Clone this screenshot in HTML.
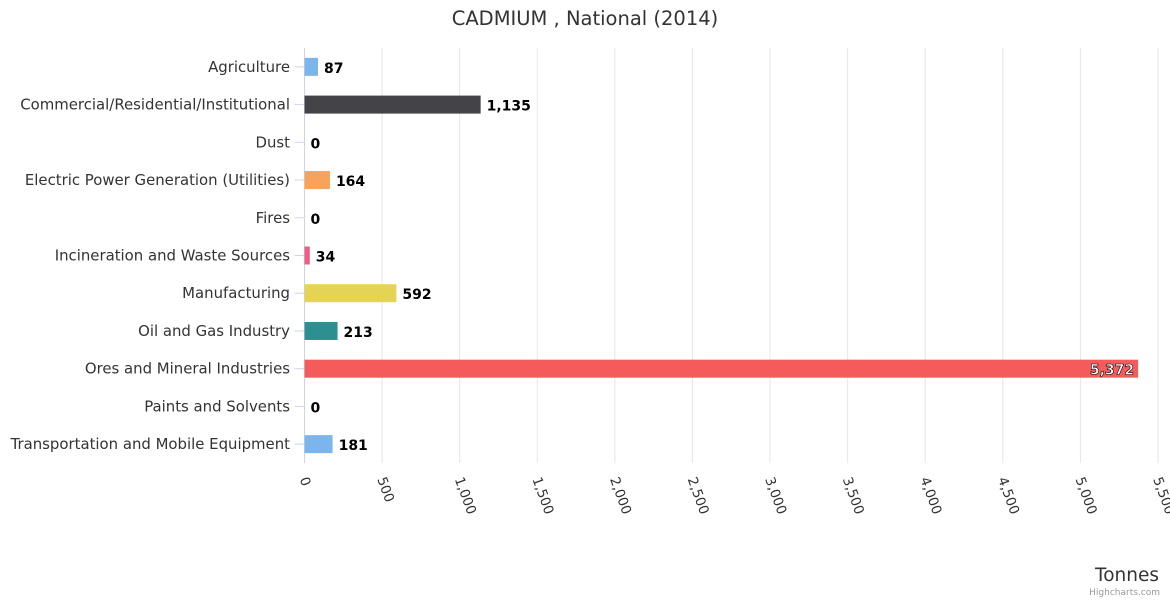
<!DOCTYPE html>
<html><head><meta charset="utf-8"><style>
body{margin:0;background:#fff;font-family:"DejaVu Sans","Liberation Sans",sans-serif;}
</style></head><body>
<svg id="c" width="1170" height="600" xmlns="http://www.w3.org/2000/svg" font-family="DejaVu Sans, Liberation Sans, sans-serif">
<text x="585" y="25" text-anchor="middle" font-size="19.5" fill="#333">CADMIUM , National (2014)</text>
<g id="grid"></g><g id="bars"></g><g id="xlab"></g><g id="ylab"></g>
<text x="1159" y="581" text-anchor="end" font-size="18.5" fill="#333">Tonnes</text>
<text x="1160" y="595" text-anchor="end" font-size="9" fill="#999">Highcharts.com</text>
</svg>
<script>
const categories=["Agriculture","Commercial/Residential/Institutional","Dust","Electric Power Generation (Utilities)","Fires","Incineration and Waste Sources","Manufacturing","Oil and Gas Industry","Ores and Mineral Industries","Paints and Solvents","Transportation and Mobile Equipment"];
const values=[87,1135,0,164,0,34,592,213,5372,0,181];
const colors=["#7cb5ec","#434348","#90ed7d","#f7a35c","#8085e9","#f15c80","#e4d354","#2b908f","#f45b5b","#91e8e1","#7cb5ec"];
const ticks=[0,500,1000,1500,2000,2500,3000,3500,4000,4500,5000,5500];
const NS="http://www.w3.org/2000/svg";
const L=304.5,R=1158,T=48,B=463,MAX=5500;
const x=v=>L+v/MAX*(R-L);
const step=(B-T)/categories.length;
const y=i=>T+step*(i+0.5);
function mk(t,a,p){const e=document.createElementNS(NS,t);for(const k in a)e.setAttribute(k,a[k]);document.getElementById(p).appendChild(e);return e;}
ticks.forEach((t,i)=>{
  if(t>0){const g=mk("line",{x1:x(t),x2:x(t),y1:T,y2:B,stroke:"#e6e6e6"},"grid");
  
  }
  const tx=mk("text",{x:0,y:0,"font-size":13.5,fill:"#333",transform:`translate(${x(t)-5},${479}) rotate(70)`},"xlab");
  tx.textContent=t.toLocaleString("en-US");
  
  
});
const ax=mk("line",{x1:L,x2:L,y1:T,y2:B,stroke:"#ccd6eb"},"grid");


categories.forEach((c,i)=>{
  const tk=mk("line",{x1:L-10,x2:L,y1:y(i),y2:y(i),stroke:"#ccd6eb"},"grid");
  
  
  const lb=mk("text",{x:290,y:y(i)+5,"text-anchor":"end","font-size":14.9,fill:"#333"},"ylab");
  lb.textContent=c;
  
  
  const w=x(values[i])-L;
  const b=mk("rect",{x:L,y:y(i)-9,width:Math.max(w,0),height:18,fill:colors[i]},"bars");
  
  
  const inside=w>800;
  const v=mk("text",{x:inside?L+w-4:L+w+6,y:y(i)+6,"text-anchor":inside?"end":"start","font-size":14,"font-weight":"bold",fill:inside?"#fff":"#000",stroke:inside?"#000":"none","stroke-width":inside?0.6:0},"bars");
  v.textContent=values[i].toLocaleString("en-US");
  
  
});
</script>
</body></html>
